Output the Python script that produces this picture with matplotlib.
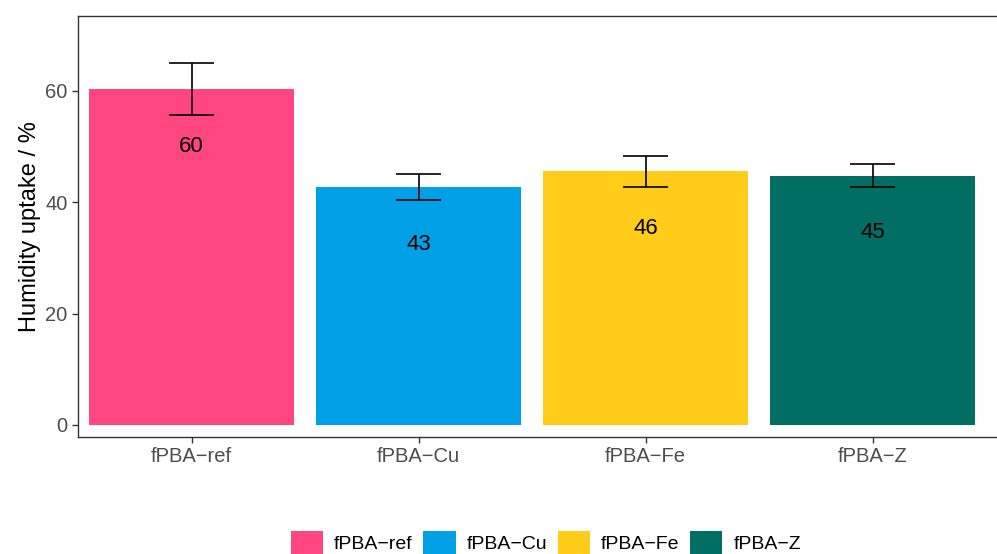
import matplotlib.pyplot as plt
import numpy as np

plt.rcParams['font.family'] = ['Liberation Sans', 'DejaVu Sans']

# Data
samples = ['fPBA\u2212ref', 'fPBA\u2212Cu', 'fPBA\u2212Fe', 'fPBA\u2212Z']
uptake = [60.3, 42.7, 45.6, 44.8]
err_low = [55.6, 40.4, 42.7, 42.7]
err_high = [65.0, 45.1, 48.3, 46.9]
labels = ['60', '43', '46', '45']
colors = ['#FF4680', '#00A0E6', '#FFCC19', '#006E63']

def main():
    fig = plt.figure(figsize=(9.97, 5.54), dpi=100)
    ax = fig.add_axes([78/997, (554-437)/554, 919/997, 421/554])

    x = np.arange(1, len(samples) + 1)
    bars = ax.bar(x, uptake, width=0.9, color=colors, label=samples)

    # error bars, caps drawn in data units
    ax.vlines(x, err_low, err_high, color='black', linewidth=1.2)
    ax.hlines(err_low, x - 0.1, x + 0.1, color='black', linewidth=1.2)
    ax.hlines(err_high, x - 0.1, x + 0.1, color='black', linewidth=1.2)

    # value labels inside the bars
    for xi, v, lab in zip(x, uptake, labels):
        ax.text(xi, v - 10.3, lab, ha='center', va='center', fontsize=16, color='black')

    ax.set_xlim(0.5, 0.5 + 919/227)
    ax.set_ylim(-2.16, 73.47)
    ax.set_xticks(x)
    ax.set_xticklabels(samples)
    ax.set_yticks([0, 20, 40, 60])
    ax.tick_params(colors='#333333', labelcolor='#4d4d4d', labelsize=14.5, length=4, width=1)
    ax.set_ylabel('Humidity uptake / %', fontsize=17, color='black', labelpad=3)

    for s in ['left', 'bottom', 'top']:
        ax.spines[s].set_color('#333333')
        ax.spines[s].set_linewidth(1)
    ax.spines['right'].set_visible(False)

    fig.legend(handles=bars, labels=samples, loc='center', bbox_to_anchor=(546/997, (554-543)/554),
               ncol=4, frameon=False, fontsize=14, handlelength=1.65, handleheight=1.6,
               handletextpad=0.57, columnspacing=0.55)

    fig.savefig('out.png', dpi=100)

if __name__ == "__main__":
    main()
